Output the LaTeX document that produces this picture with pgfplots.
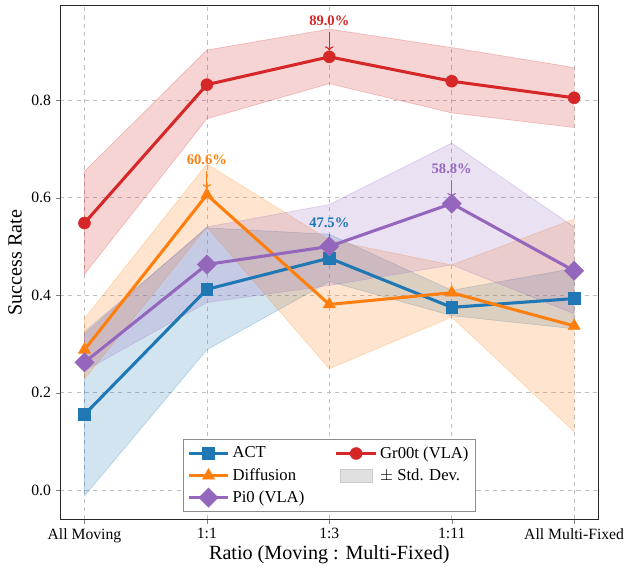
\documentclass[border=0pt]{standalone}
\usepackage{pgfplots}
\pgfplotsset{compat=1.18}
\usepackage{fontspec}
\setmainfont{Liberation Serif}
\usetikzlibrary{arrows.meta}
\definecolor{cact}{HTML}{1F77B4}
\definecolor{cdif}{HTML}{FF7F0E}
\definecolor{cpi}{HTML}{9467BD}
\definecolor{cgr}{HTML}{D62728}

\pgfplotsset{
  band/.style={fill=#1, fill opacity=0.2, draw=#1, draw opacity=0.25, line width=0.5pt, forget plot},
  serie/.style={#1, line width=2.2pt, mark options={solid, fill=#1, draw=#1, line width=0.4pt}},
}

\begin{document}
\begin{tikzpicture}
\begin{axis}[
  scale only axis, width=388pt, height=370pt,
  xmin=-0.2, xmax=4.2, ymin=-0.06, ymax=0.994,
  xtick={0,1,2,3,4},
  xticklabels={All Moving,1:1,1:3,1:11,All Multi-Fixed},
  ytick={0,0.2,0.4,0.6,0.8},
  yticklabel style={/pgf/number format/.cd, fixed, fixed zerofill, precision=1},
  /pgf/number format/assume math mode=true,
  tick label style={font=\fontsize{11.3}{13}\selectfont},
  label style={font=\fontsize{14.5}{16}\selectfont},
  xlabel style={yshift=5pt},
  xlabel={Ratio (Moving : Multi-Fixed)},
  ylabel={Success Rate},
  grid=major, major grid style={dashed, black!25, line width=0.5pt},
  tick align=outside, xtick pos=bottom, ytick pos=left,
  major tick length=3pt,
  axis line style={black!85},
  legend columns=2,
  legend cell align=left,
  legend style={at={(0.5,0.015)}, anchor=south, draw=black!45, fill=white,
    font=\fontsize{12}{14}\selectfont, row sep=2pt, inner ysep=3pt,
    /tikz/every even column/.append style={column sep=20pt}},
  legend image code/.code={\draw[mark repeat=2, mark phase=2] plot coordinates {(0cm,0cm) (0.5cm,0cm) (1.0cm,0cm)};},
]
% std dev bands
\addplot[band=cact] coordinates {(0,0.325) (1,0.538) (2,0.525) (3,0.410) (4,0.455)
  (4,0.331) (3,0.358) (2,0.428) (1,0.288) (0,-0.012)} --cycle;
\addplot[band=cdif] coordinates {(0,0.352) (1,0.669) (2,0.513) (3,0.462) (4,0.556)
  (4,0.120) (3,0.355) (2,0.249) (1,0.540) (0,0.228)} --cycle;
\addplot[band=cpi] coordinates {(0,0.320) (1,0.540) (2,0.586) (3,0.712) (4,0.540)
  (4,0.362) (3,0.462) (2,0.420) (1,0.385) (0,0.245)} --cycle;
\addplot[band=cgr] coordinates {(0,0.654) (1,0.903) (2,0.946) (3,0.908) (4,0.867)
  (4,0.744) (3,0.774) (2,0.834) (1,0.762) (0,0.443)} --cycle;

% mean lines
\addplot[serie=cact, mark=square*, mark size=4.2pt, forget plot] coordinates {(0,0.155) (1,0.412) (2,0.476) (3,0.375) (4,0.393)};
\addplot[serie=cdif, mark=triangle*, mark size=5pt, forget plot] coordinates {(0,0.288) (1,0.606) (2,0.381) (3,0.405) (4,0.337)};
\addplot[serie=cpi, mark=square*, mark size=4pt, mark options={rotate=45}, forget plot] coordinates {(0,0.262) (1,0.463) (2,0.500) (3,0.588) (4,0.450)};
\addplot[serie=cgr, mark=*, mark size=4.3pt, forget plot] coordinates {(0,0.548) (1,0.832) (2,0.889) (3,0.839) (4,0.805)};

% peak annotations
\draw[cgr, -{To[length=3pt]}, line width=0.8pt] (axis cs:2,0.940) -- (axis cs:2,0.902);
\node[cgr, font=\fontsize{10.5}{12}\selectfont\bfseries] at (axis cs:2,0.963) {89.0\%};
\draw[cdif, -{To[length=3pt]}, line width=0.8pt] (axis cs:1,0.655) -- (axis cs:1,0.619);
\node[cdif, font=\fontsize{10.5}{12}\selectfont\bfseries] at (axis cs:1,0.678) {60.6\%};
\draw[cpi, -{To[length=3pt]}, line width=0.8pt] (axis cs:3,0.637) -- (axis cs:3,0.601);
\node[cpi, font=\fontsize{10.5}{12}\selectfont\bfseries] at (axis cs:3,0.660) {58.8\%};
\draw[cact, -{To[length=3pt]}, line width=0.8pt] (axis cs:2,0.525) -- (axis cs:2,0.489);
\node[cact, font=\fontsize{10.5}{12}\selectfont\bfseries] at (axis cs:2,0.548) {47.5\%};

% legend (row-major order to match column-major layout)
\addlegendimage{serie=cact, mark=square*, mark size=4.2pt}
\addlegendentry{ACT}
\addlegendimage{serie=cgr, mark=*, mark size=4.3pt}
\addlegendentry{Gr00t (VLA)}
\addlegendimage{serie=cdif, mark=triangle*, mark size=5pt}
\addlegendentry{Diffusion}
\addlegendimage{area legend, legend image code/.code={\fill[black!12, draw=black!20] (0.1cm,-0.17cm) rectangle (0.9cm,0.17cm);}}
\addlegendentry{$\pm$ Std. Dev.}
\addlegendimage{serie=cpi, mark=square*, mark size=4pt, mark options={rotate=45}}
\addlegendentry{Pi0 (VLA)}
\end{axis}
\pgfresetboundingbox
\path ([shift={(-43.2pt,-34.3pt)}]current axis.south west) rectangle ([shift={(26.2pt,4.1pt)}]current axis.north east);
\end{tikzpicture}
\end{document}
